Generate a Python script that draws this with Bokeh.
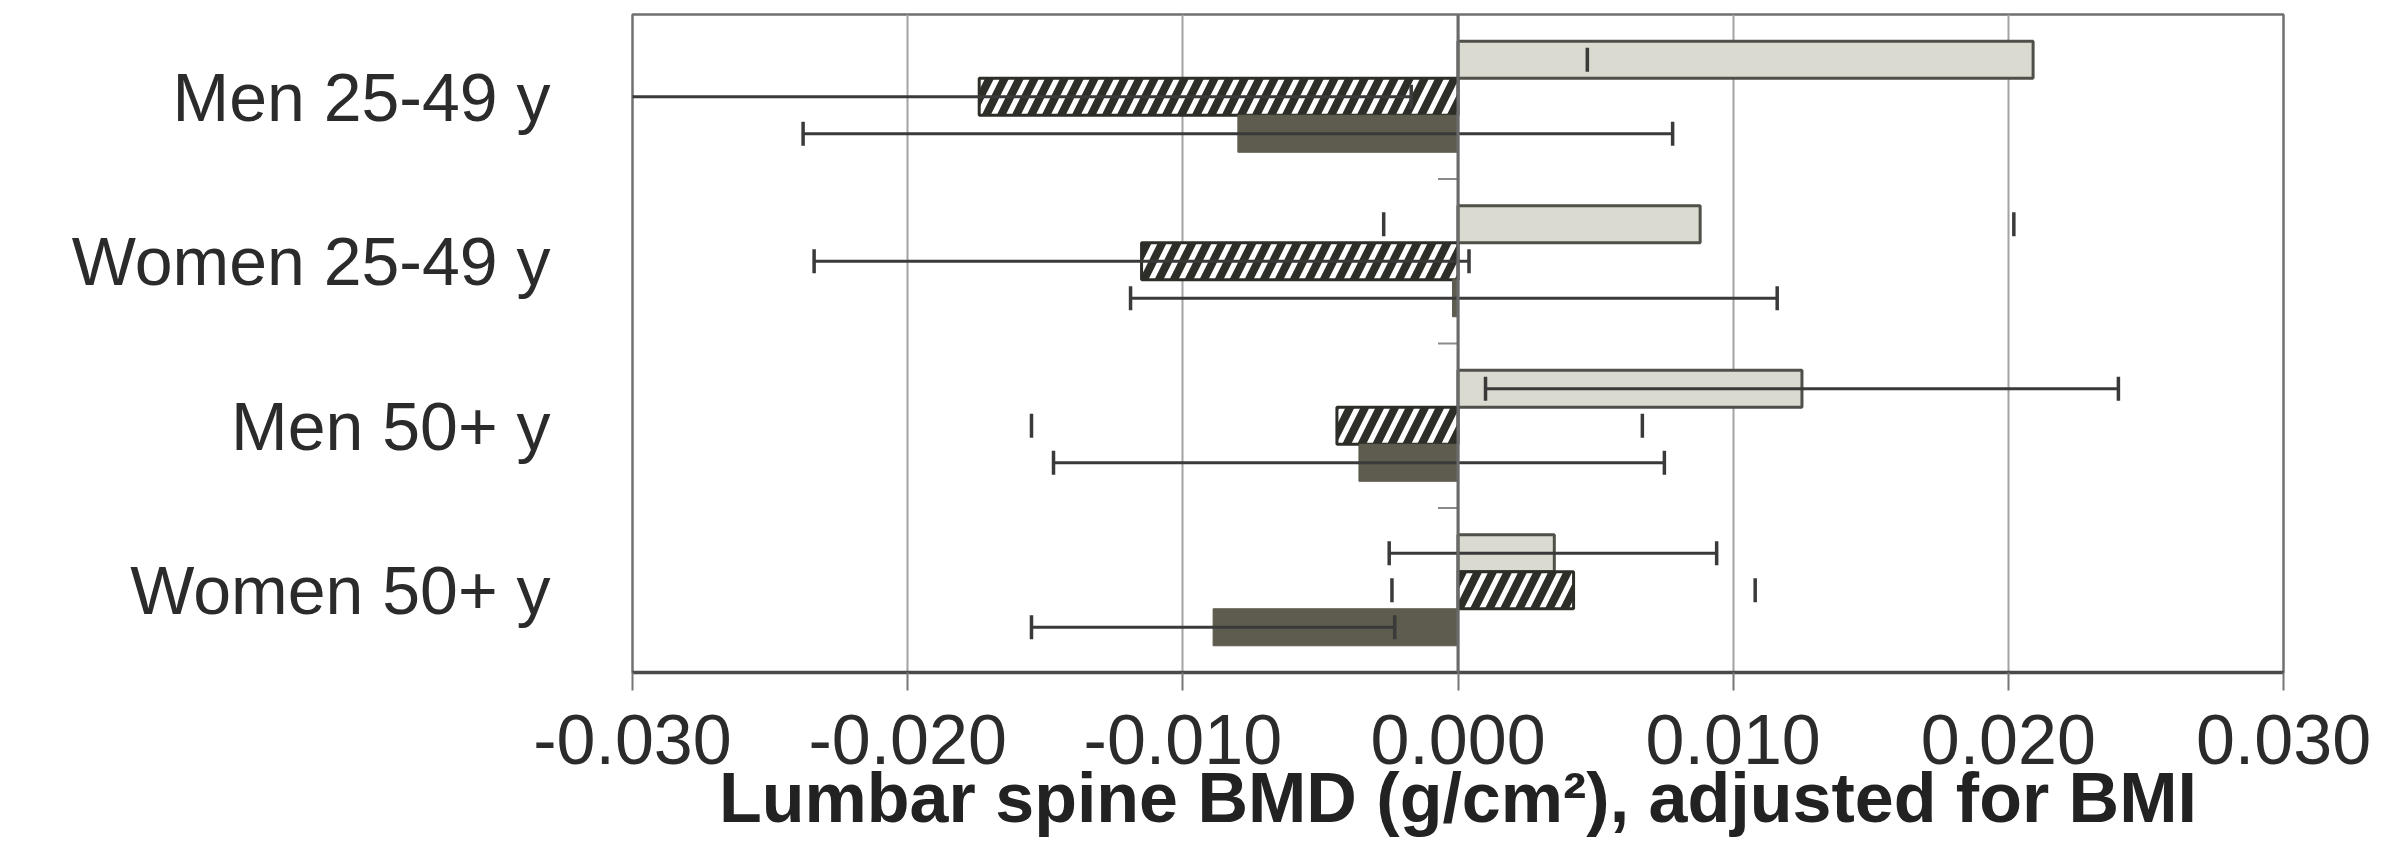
from bokeh.plotting import figure
from bokeh.models import ColumnDataSource, FixedTicker, Span, Range1d, NumeralTickFormatter
from bokeh.transform import dodge
from bokeh.embed import file_html
from bokeh.resources import INLINE

# ---------------- data ----------------
groups = ["Men 25-49 y", "Women 25-49 y", "Men 50+ y", "Women 50+ y"]

light_mean = [0.0209, 0.0088, 0.0125, 0.0035]
light_lo = [0.0047, -0.0027, 0.0010, -0.0025]
light_hi = [0.0371, 0.0202, 0.0240, 0.0094]
light_line = [False, False, True, True]

hatch_mean = [-0.0174, -0.0115, -0.0044, 0.0042]
hatch_lo = [-0.0331, -0.0234, -0.0155, -0.0024]
hatch_hi = [-0.0017, 0.0004, 0.0067, 0.0108]
hatch_line = [True, True, False, False]

dark_mean = [-0.0080, -0.0002, -0.0036, -0.0089]
dark_lo = [-0.0238, -0.0119, -0.0147, -0.0155]
dark_hi = [0.0078, 0.0116, 0.0075, -0.0023]
dark_line = [True, True, True, True]

x_ticks = [-0.03, -0.02, -0.01, 0.0, 0.01, 0.02, 0.03]
x_title = "Lumbar spine BMD (g/cm\u00b2), adjusted for BMI"

# ---------------- figure ----------------
FONT = "Liberation Sans"
n = len(groups)
idx = list(range(n))

p = figure(width=2387, height=847,
           x_range=Range1d(x_ticks[0], x_ticks[-1]),
           y_range=Range1d(n - 0.5, -0.5),
           output_backend="svg", toolbar_location=None,
           min_border_left=632, min_border_right=104,
           min_border_top=14, min_border_bottom=175)
p.background_fill_color = "white"
p.border_fill_color = "white"
p.outline_line_color = "#707070"
p.outline_line_width = 2.5

# grid
p.ygrid.grid_line_color = None
p.xgrid.ticker = FixedTicker(ticks=x_ticks)
p.xgrid.grid_line_color = "#a3a3a3"
p.xgrid.grid_line_width = 2

# x axis
xa = p.xaxis[0]
xa.ticker = FixedTicker(ticks=x_ticks)
xa.formatter = NumeralTickFormatter(format="0.000")
xa.axis_line_color = "#4a4a4a"
xa.axis_line_width = 3.5
xa.major_tick_line_color = "#777777"
xa.major_tick_line_width = 2
xa.major_tick_out = 18
xa.major_tick_in = 0
xa.minor_tick_line_color = None
xa.major_label_text_font = FONT
xa.major_label_text_font_size = "70px"
xa.major_label_text_color = "#2b2b2b"
xa.major_label_standoff = 24
xa.axis_label = x_title
xa.axis_label_text_font = FONT
xa.axis_label_text_font_size = "70px"
xa.axis_label_text_font_style = "bold"
xa.axis_label_text_color = "#222222"
xa.axis_label_standoff = -8

# y axis (category labels on the left)
ya = p.yaxis[0]
ya.ticker = FixedTicker(ticks=idx)
ya.major_label_overrides = {i: g for i, g in zip(idx, groups)}
ya.axis_line_color = None
ya.major_tick_line_color = None
ya.minor_tick_line_color = None
ya.major_label_standoff = 76
ya.major_label_text_font = FONT
ya.major_label_text_font_size = "68px"
ya.major_label_text_color = "#2b2b2b"

# zero axis line
p.add_layout(Span(location=0, dimension="height", line_color="#6a6a6a", line_width=3))

# small category-boundary ticks on the zero axis
bounds = [i + 0.5 for i in idx[:-1]]
tick_len = (x_ticks[-1] - x_ticks[0]) / 1651 * 20
p.segment(x0=[0] * len(bounds), x1=[-tick_len] * len(bounds), y0=bounds, y1=bounds,
          line_color="#8a8a8a", line_width=2)

bar_h = 0.225
off = {"light": -0.225, "hatch": 0.0, "dark": 0.225}

src_light = ColumnDataSource(dict(y=idx, v=light_mean, lo=light_lo, hi=light_hi))
src_hatch = ColumnDataSource(dict(y=idx, v=hatch_mean, lo=hatch_lo, hi=hatch_hi))
src_dark = ColumnDataSource(dict(y=idx, v=dark_mean, lo=dark_lo, hi=dark_hi))

p.hbar(y=dodge("y", off["light"], range=p.y_range), left=0, right="v", height=bar_h,
       source=src_light, fill_color="#dadad0", line_color="#50504a", line_width=3)
p.hbar(y=dodge("y", off["hatch"], range=p.y_range), left=0, right="v", height=bar_h,
       source=src_hatch, fill_color="white", line_color="#2e2e28", line_width=3,
       hatch_pattern="/", hatch_color="#2e2e28", hatch_scale=30, hatch_weight=8)
p.hbar(y=dodge("y", off["dark"], range=p.y_range), left=0, right="v", height=bar_h,
       source=src_dark, fill_color="#5e5c4e", line_color="#5e5c4e", line_width=1)

# error bars
ERR = "#3a3a3a"
for key, mean, lo, hi, show in [("light", light_mean, light_lo, light_hi, light_line),
                                ("hatch", hatch_mean, hatch_lo, hatch_hi, hatch_line),
                                ("dark", dark_mean, dark_lo, dark_hi, dark_line)]:
    ys = [i + off[key] for i in idx]
    ly = [y for y, s in zip(ys, show) if s]
    l0 = [a for a, s in zip(lo, show) if s]
    l1 = [b for b, s in zip(hi, show) if s]
    p.segment(x0=l0, x1=l1, y0=ly, y1=ly, line_color=ERR, line_width=3)
    p.scatter(x=lo + hi, y=ys + ys, marker="dash", angle=1.5708, size=24,
              line_color=ERR, line_width=3.5)

open("out.html", "w").write(file_html(p, INLINE))
